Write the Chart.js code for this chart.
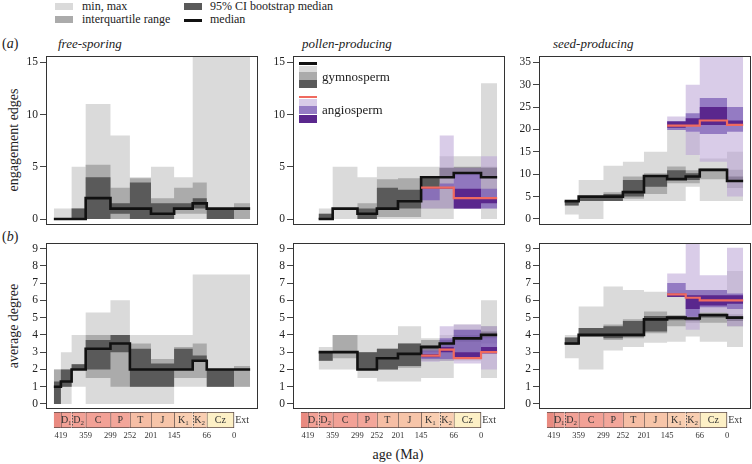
<!DOCTYPE html>
<html lang="en">
<head>
<meta charset="utf-8">
<title>Engagement edges and average degree through geological time</title>
<script src="https://cdn.jsdelivr.net/npm/chart.js@4.4.1/dist/chart.umd.min.js"></script>
<style>
  html,body{margin:0;padding:0;background:#fff;}
  body{width:752px;height:464px;position:relative;overflow:hidden;font-family:'Liberation Serif','Times New Roman',serif;color:#222;}
  canvas{position:absolute;}
  .txt{position:absolute;white-space:nowrap;line-height:1;}
  .sw{position:absolute;}
  .vt{position:absolute;white-space:nowrap;line-height:1;transform:translate(-50%,-50%) rotate(-90deg);}
</style>
</head>
<body>
<!-- top legend -->
<div class="sw" style="left:55px;top:3px;width:18px;height:7px;background:#dadada"></div>
<div class="txt" style="left:82px;top:0px;font-size:12px">min, max</div>
<div class="sw" style="left:55px;top:16px;width:18px;height:7px;background:#ababab"></div>
<div class="txt" style="left:82px;top:13px;font-size:12px">interquartile range</div>
<div class="sw" style="left:184px;top:3px;width:18px;height:7px;background:#5a5a5a"></div>
<div class="txt" style="left:210px;top:0px;font-size:12px">95% CI bootstrap median</div>
<div class="sw" style="left:184px;top:19px;width:18px;height:2.6px;background:#111"></div>
<div class="txt" style="left:210px;top:13px;font-size:12px">median</div>

<!-- panel letters and titles -->
<div class="txt" style="left:2px;top:37px;font-size:14px">(<i>a</i>)</div>
<div class="txt" style="left:2px;top:230px;font-size:14px">(<i>b</i>)</div>
<div class="txt" style="left:58px;top:37px;font-size:13px"><i>free-sporing</i></div>
<div class="txt" style="left:302px;top:37px;font-size:13px"><i>pollen-producing</i></div>
<div class="txt" style="left:553px;top:37px;font-size:13px"><i>seed-producing</i></div>
<div class="vt" style="left:14px;top:140px;font-size:14px">engagement edges</div>
<div class="vt" style="left:14px;top:326px;font-size:14px">average degree</div>
<div class="txt" style="left:398px;top:448px;font-size:14px;transform:translateX(-50%)">age (Ma)</div>

<canvas id="a1" width="258" height="193" style="left:4px;top:44px"></canvas>
<canvas id="a2" width="258" height="193" style="left:251px;top:44px"></canvas>
<canvas id="a3" width="258" height="193" style="left:497px;top:44px"></canvas>
<canvas id="b1" width="258" height="190" style="left:4px;top:231px"></canvas>
<canvas id="b2" width="258" height="190" style="left:251px;top:231px"></canvas>
<canvas id="b3" width="258" height="190" style="left:497px;top:231px"></canvas>
<canvas id="t1" width="236" height="42" style="left:34px;top:410px"></canvas>
<canvas id="t2" width="236" height="42" style="left:281px;top:410px"></canvas>
<canvas id="t3" width="236" height="42" style="left:527px;top:410px"></canvas>

<!-- pollen-producing inner legend -->
<div class="sw" style="left:299px;top:62px;width:18px;height:2.8px;background:#111"></div>
<div class="sw" style="left:299px;top:66px;width:18px;height:6px;background:#dadada"></div>
<div class="sw" style="left:299px;top:72px;width:18px;height:8px;background:#ababab"></div>
<div class="sw" style="left:299px;top:80px;width:18px;height:8px;background:#5a5a5a"></div>
<div class="txt" style="left:322px;top:70px;font-size:13px">gymnosperm</div>
<div class="sw" style="left:299px;top:95.5px;width:18px;height:2.4px;background:#f06a5f"></div>
<div class="sw" style="left:299px;top:98.5px;width:18px;height:7px;background:#d8cce8"></div>
<div class="sw" style="left:299px;top:106px;width:18px;height:8px;background:#957cc4"></div>
<div class="sw" style="left:299px;top:114.5px;width:18px;height:8px;background:#5a278d"></div>
<div class="txt" style="left:322px;top:103px;font-size:13px">angiosperm</div>

<script>
// ---------- time bins (ages in Ma; last bin = extant) ----------
const binEdges   = [436, 419, 393, 359, 299, 252, 201, 145, 100, 66, 0, -39];
const binNames   = ['S', 'D1', 'D2', 'C', 'P', 'T', 'J', 'K1', 'K2', 'Cz', 'Ext'];
const periodMain = ['', 'D', 'D', 'C', 'P', 'T', 'J', 'K', 'K', 'Cz', 'Ext'];
const periodSub  = ['', '1', '2', '', '', '', '', '1', '2', '', ''];
const timeTicks  = [419, 359, 299, 252, 201, 145, 66, 0];
const dashedEdges = [393, 100];

// ---------- tick labels ----------
const ticksEdges     = [0, 5, 10, 15];
const ticksEdgesSeed = [0, 5, 10, 15, 20, 25, 30, 35];
const ticksDegree    = [0, 1, 2, 3, 4, 5, 6, 7, 8, 9];

// ---------- (a) engagement edges ----------
// free-sporing: bins S..Ext
const fsEdgeMin  = [0, 0, 0, 0, 0, 0, 0, 0, 0, 0, 0];
const fsEdgeMax  = [1, 1, 5, 11, 8, 4, 5, 4, 16, 16, 16];
const fsEdgeQ1   = [0, 0, 0, 0, 0, 0, 0, 0.5, 0.5, 0, 0];
const fsEdgeQ3   = [0, 0, 1, 5.2, 3, 3.9, 2, 3, 3.5, 1, 1.5];
const fsEdgeCiLo = [0, 0, 0, 0, 0.5, 0, 0, 1, 1, 0, 1];
const fsEdgeCiHi = [0, 0, 1, 4, 1.5, 3.5, 1.5, 1.5, 2, 1, 1];
const fsEdgeMed  = [0, 0, 0, 2, 1, 1, 0.5, 1, 1.5, 1, 1];
// pollen-producing gymnosperms: bins D2..Ext
const pgEdgeMin  = [0, 0, 0, 0, 0, 0, 0, 1, 0];
const pgEdgeMax  = [1, 5, 4, 5, 5, 5, 6, 6, 13];
const pgEdgeQ1   = [0, 1, 0, 0.2, 0.2, 1, 1, 4.2, 2];
const pgEdgeQ3   = [0.5, 1, 1.5, 3.8, 3.9, 3.9, 4.9, 5, 5];
const pgEdgeCiLo = [0, 1, 0, 1, 1, 2.9, 4, 4.4, 4];
const pgEdgeCiHi = [0.5, 1, 1, 3, 2.8, 3.9, 4.9, 4.9, 4.9];
const pgEdgeMed  = [0, 1, 0.5, 1, 1.7, 4, 4, 4.4, 4];
// pollen-producing angiosperms: bins K1..Ext
const paEdgeMin  = [1, 1, 1, 1];
const paEdgeMax  = [3, 8, 4.9, 6];
const paEdgeQ1   = [1.8, 2.9, 1, 1];
const paEdgeQ3   = [3, 3.4, 4.4, 2.9];
const paEdgeCiLo = [2.9, 2.9, 1, 1.5];
const paEdgeCiHi = [3, 3, 2.9, 2];
const paEdgeMed  = [3, 3, 2, 2];
// seed-producing gymnosperms: bins D2..Ext
const sgEdgeMin  = [1, 0, 4, 4, 4, 4, 7.2, 4, 4];
const sgEdgeMax  = [4, 8.7, 11.9, 12.8, 15, 20, 19.5, 13.5, 15];
const sgEdgeQ1   = [3, 4, 4, 4.5, 5.6, 8, 8, 8.9, 6.9];
const sgEdgeQ3   = [4, 5.2, 6, 9.5, 10.2, 11.7, 10.9, 11.2, 11];
const sgEdgeCiLo = [3, 4, 4, 5, 7.2, 8.9, 8.7, 10.6, 8.5];
const sgEdgeCiHi = [4, 5, 5.6, 8.7, 9.7, 10.9, 10.2, 11.2, 9.5];
const sgEdgeMed  = [4, 5, 5, 6, 9.6, 8.9, 9.5, 11, 8.5];
// seed-producing angiosperms: bins K1..Ext
const saEdgeMin  = [19.9, 14.3, 12.8, 5];
const saEdgeMax  = [22.9, 30, 37, 37];
const saEdgeQ1   = [19.9, 19.5, 19, 19.5];
const saEdgeQ3   = [21.9, 23.6, 27, 25];
const saEdgeCiLo = [20.4, 21, 21, 21];
const saEdgeCiHi = [21.8, 22.5, 25, 22];
const saEdgeMed  = [20.85, 20.85, 22, 21];

// ---------- (b) average degree ----------
const fsDegMin  = [0, 0, 1, 0, 0, 0, 0, 1, 1, 1, 1];
const fsDegMax  = [2, 3, 4, 5.3, 6, 4, 4, 4, 7.5, 7.5, 7.5];
const fsDegQ1   = [0, 1, 2, 1.5, 1, 1, 1, 1.5, 1.5, 1, 1];
const fsDegQ3   = [2, 2, 2.3, 4, 4, 3.5, 2.6, 3.3, 3.5, 2, 2.2];
const fsDegCiLo = [0, 1, 2, 2, 3, 1, 1, 2, 2.45, 1, 2];
const fsDegCiHi = [1.3, 2, 2.3, 3.7, 4, 3.2, 2.35, 3.2, 2.8, 2, 2];
const fsDegMed  = [1, 1.3, 2, 3.2, 3.5, 2, 2, 2, 2.5, 2, 2];

const pgDegMin  = [2, 2, 1.5, 1.3, 1.3, 1.5, 1.5, 2.5, 1.5];
const pgDegMax  = [3.3, 4, 4, 4, 4.5, 3.8, 4, 4.6, 6];
const pgDegQ1   = [2.5, 2.65, 2, 2, 2.1, 2.5, 2.5, 3, 3.5];
const pgDegQ3   = [3, 4, 3, 3.2, 3.5, 3.7, 3.7, 4.3, 4.5];
const pgDegCiLo = [2.5, 3, 2, 2, 2.2, 3, 3.2, 3.6, 3.8];
const pgDegCiHi = [3, 3, 3, 3.2, 3.5, 3.4, 3.7, 4, 4.2];
const pgDegMed  = [3, 3, 2, 2.65, 2.9, 3.3, 3.5, 3.8, 4];

const paDegMin  = [2.45, 2.5, 2.35, 2];
const paDegMax  = [3.2, 4.5, 4.6, 4.5];
const paDegQ1   = [2.6, 2.6, 2.65, 2.9];
const paDegQ3   = [3.1, 3.8, 4.3, 3.9];
const paDegCiLo = [2.7, 3, 2.65, 3];
const paDegCiHi = [2.9, 3.3, 3, 3.3];
const paDegMed  = [2.8, 3.15, 2.65, 3];

const sgDegMin  = [2.65, 2, 3.1, 3.3, 3.55, 3.6, 3.9, 3.6, 3.3];
const sgDegMax  = [4, 5.65, 6.8, 6.6, 6.5, 6.6, 6.6, 6.6, 7.7];
const sgDegQ1   = [3.45, 3.9, 3.7, 3.8, 4.1, 4.5, 4.7, 4.7, 4.5];
const sgDegQ3   = [3.85, 4.4, 4.6, 4.9, 5.35, 5.15, 5.1, 5.3, 5.2];
const sgDegCiLo = [3.45, 3.9, 3.8, 3.9, 4.2, 4.85, 4.8, 5.0, 4.8];
const sgDegCiHi = [3.85, 4.4, 4.5, 4.8, 5.1, 5.1, 5.0, 5.2, 5.1];
const sgDegMed  = [3.5, 4, 4, 4, 4.9, 5, 4.95, 5.15, 5];

const saDegMin  = [6.2, 4.3, 5.3, 4.5];
const saDegMax  = [7.55, 9.3, 7.45, 9.05];
const saDegQ1   = [6.25, 5.05, 5.6, 5.5];
const saDegQ3   = [7, 6.6, 6.6, 6.4];
const saDegCiLo = [6.2, 5.5, 5.7, 5.8];
const saDegCiHi = [6.4, 6.3, 6.3, 6.3];
const saDegMed  = [6.35, 6.15, 6.0, 6.0];

// ---------- styling ----------
const FONT = "'Liberation Serif','Times New Roman',serif";
Chart.defaults.font.family = FONT;
const X_MIN = -58, X_MAX = 455;
const GRAYS   = ['#dadada', '#ababab', '#5a5a5a'];
const PURPLES = ['rgba(185,163,214,0.55)', 'rgba(120,90,180,0.7)', 'rgba(84,30,135,0.9)'];
const BLACK = '#111111', RED = '#f06a5f';
const periodColors = ['#e98a80', '#f2a196', '#f2a196', '#f2a196', '#f3a69a', '#f6bea5',
                      '#f7c5a9', '#f9ceb1', '#f9ceb1', '#fdf0c6', 'rgba(0,0,0,0)'];

function stepPts(edges, vals) {
  const p = vals.map((v, i) => ({x: edges[i], y: v}));
  p.push({x: edges[vals.length], y: vals[vals.length - 1]});
  return p;
}
function addBand(ds, edges, lo, hi, color, order) {
  const base = {type: 'line', stepped: true, pointRadius: 0, borderWidth: 0,
                borderColor: 'rgba(0,0,0,0)', order: order};
  ds.push(Object.assign({}, base, {data: stepPts(edges, lo), fill: false}));
  const idx = ds.length - 1;
  ds.push(Object.assign({}, base, {data: stepPts(edges, hi), fill: {target: idx}, backgroundColor: color}));
}
function addGroup(ds, edges, g, colors, orderBase) {
  addBand(ds, edges, g.min, g.max, colors[0], orderBase + 3);
  addBand(ds, edges, g.q1, g.q3, colors[1], orderBase + 2);
  addBand(ds, edges, g.ciLo, g.ciHi, colors[2], orderBase + 1);
}
function medLine(edges, vals, color, width, order) {
  return {type: 'line', stepped: true, data: stepPts(edges, vals), borderColor: color,
          borderWidth: width, pointRadius: 0, fill: false, order: order};
}

const framePlugin = {
  id: 'frame',
  afterDraw(chart) {
    const {ctx, chartArea: a} = chart;
    ctx.save();
    ctx.strokeStyle = '#333';
    ctx.lineWidth = 1;
    ctx.strokeRect(Math.round(a.left) + 0.5, Math.round(a.top) + 0.5,
                   Math.round(a.right - a.left) - 1, Math.round(a.bottom - a.top) - 1);
    ctx.restore();
  }
};

function panel(id, groups, yMin, yMax, yTicks) {
  const ds = [];
  const edgesAll = binEdges;
  groups.forEach(gr => {
    const edges = edgesAll.slice(gr.first);
    addGroup(ds, edges, gr, gr.angio ? PURPLES : GRAYS, gr.angio ? 3 : 10);
  });
  groups.forEach(gr => {
    const edges = edgesAll.slice(gr.first);
    ds.push(gr.angio ? medLine(edges, gr.med, RED, 2.2, 0) : medLine(edges, gr.med, BLACK, 2.6, 1));
  });
  new Chart(document.getElementById(id), {
    type: 'line',
    data: {datasets: ds},
    options: {
      responsive: false, animation: false,
      layout: {padding: {left: 0, right: 4, top: 12, bottom: 12}},
      plugins: {legend: {display: false}, tooltip: {enabled: false}},
      scales: {
        x: {type: 'linear', min: X_MIN, max: X_MAX, reverse: true, display: false},
        y: {
          type: 'linear', min: yMin, max: yMax,
          afterBuildTicks: s => { s.ticks = yTicks.map(v => ({value: v})); },
          afterFit: s => { s.width = 42; },
          ticks: {font: {family: FONT, size: 11.5}, color: '#222', padding: 2},
          grid: {display: true, drawOnChartArea: false, drawTicks: true, tickLength: 6, color: '#444'},
          border: {display: false}
        }
      }
    },
    plugins: [framePlugin]
  });
}

const G = (first, min, max, q1, q3, ciLo, ciHi, med, angio) =>
  ({first, min, max, q1, q3, ciLo, ciHi, med, angio});

panel('a1', [G(0, fsEdgeMin, fsEdgeMax, fsEdgeQ1, fsEdgeQ3, fsEdgeCiLo, fsEdgeCiHi, fsEdgeMed, false)],
      -0.57, 15.6, ticksEdges);
panel('a2', [G(2, pgEdgeMin, pgEdgeMax, pgEdgeQ1, pgEdgeQ3, pgEdgeCiLo, pgEdgeCiHi, pgEdgeMed, false),
             G(7, paEdgeMin, paEdgeMax, paEdgeQ1, paEdgeQ3, paEdgeCiLo, paEdgeCiHi, paEdgeMed, true)],
      -0.57, 15.6, ticksEdges);
panel('a3', [G(2, sgEdgeMin, sgEdgeMax, sgEdgeQ1, sgEdgeQ3, sgEdgeCiLo, sgEdgeCiHi, sgEdgeMed, false),
             G(7, saEdgeMin, saEdgeMax, saEdgeQ1, saEdgeQ3, saEdgeCiLo, saEdgeCiHi, saEdgeMed, true)],
      -1.34, 36.4, ticksEdgesSeed);
panel('b1', [G(0, fsDegMin, fsDegMax, fsDegQ1, fsDegQ3, fsDegCiLo, fsDegCiHi, fsDegMed, false)],
      -0.29, 9.32, ticksDegree);
panel('b2', [G(2, pgDegMin, pgDegMax, pgDegQ1, pgDegQ3, pgDegCiLo, pgDegCiHi, pgDegMed, false),
             G(7, paDegMin, paDegMax, paDegQ1, paDegQ3, paDegCiLo, paDegCiHi, paDegMed, true)],
      -0.29, 9.32, ticksDegree);
panel('b3', [G(2, sgDegMin, sgDegMax, sgDegQ1, sgDegQ3, sgDegCiLo, sgDegCiHi, sgDegMed, false),
             G(7, saDegMin, saDegMax, saDegQ1, saDegQ3, saDegCiLo, saDegCiHi, saDegMed, true)],
      -0.29, 9.32, ticksDegree);

// ---------- geological timescale strips ----------
const tsPlugin = {
  id: 'tsLabels',
  afterDatasetsDraw(chart) {
    const {ctx, chartArea: a} = chart;
    const x = chart.scales.x;
    ctx.save();
    ctx.fillStyle = '#333';
    ctx.textBaseline = 'middle';
    ctx.textAlign = 'left';
    const cy = (a.top + a.bottom) / 2;
    periodMain.forEach((m, i) => {
      if (!m) return;
      const cx = (x.getPixelForValue(binEdges[i]) + x.getPixelForValue(binEdges[i + 1])) / 2;
      ctx.font = '10px ' + FONT;
      const w1 = ctx.measureText(m).width;
      let w2 = 0;
      if (periodSub[i]) { ctx.font = '7px ' + FONT; w2 = ctx.measureText(periodSub[i]).width; }
      const x0 = cx - (w1 + w2) / 2;
      ctx.font = '10px ' + FONT;
      ctx.fillText(m, x0, cy);
      if (periodSub[i]) { ctx.font = '7px ' + FONT; ctx.fillText(periodSub[i], x0 + w1, cy + 3); }
    });
    ctx.strokeStyle = '#555';
    ctx.lineWidth = 1;
    ctx.setLineDash([1.5, 1.5]);
    dashedEdges.forEach(v => {
      const px = Math.round(x.getPixelForValue(v)) + 0.5;
      ctx.beginPath(); ctx.moveTo(px, a.top); ctx.lineTo(px, a.bottom); ctx.stroke();
    });
    ctx.restore();
  }
};
function bw(l, r) { return {top: 1, bottom: 1, left: l, right: r}; }
const periodBorders = [bw(0, 0), bw(1, 0), bw(0, 0), bw(1, 0), bw(1, 0), bw(1, 0), bw(1, 0),
                       bw(1, 0), bw(0, 0), bw(1, 1), 0];
function timescale(id) {
  const datasets = binNames.map((n, i) => ({
    label: n,
    data: [[binEdges[i], binEdges[i + 1]]],
    backgroundColor: periodColors[i],
    borderColor: '#5b4a48',
    borderWidth: periodBorders[i],
    borderSkipped: false,
    barPercentage: 1, categoryPercentage: 1, grouped: false
  }));
  new Chart(document.getElementById(id), {
    type: 'bar',
    data: {labels: [''], datasets: datasets},
    options: {
      indexAxis: 'y', responsive: false, animation: false,
      layout: {padding: {left: 12, right: 12, top: 2, bottom: 2}},
      plugins: {legend: {display: false}, tooltip: {enabled: false}},
      scales: {
        x: {
          type: 'linear', min: X_MIN, max: X_MAX, reverse: true,
          afterBuildTicks: s => { s.ticks = timeTicks.map(v => ({value: v})); },
          afterFit: s => { s.height = 22; },
          ticks: {font: {family: FONT, size: 8.5}, color: '#333', padding: 3, autoSkip: false, maxRotation: 0},
          grid: {display: false, drawTicks: false},
          border: {display: false}
        },
        y: {type: 'category', display: false}
      }
    },
    plugins: [tsPlugin]
  });
}
timescale('t1'); timescale('t2'); timescale('t3');
</script>
</body>
</html>
